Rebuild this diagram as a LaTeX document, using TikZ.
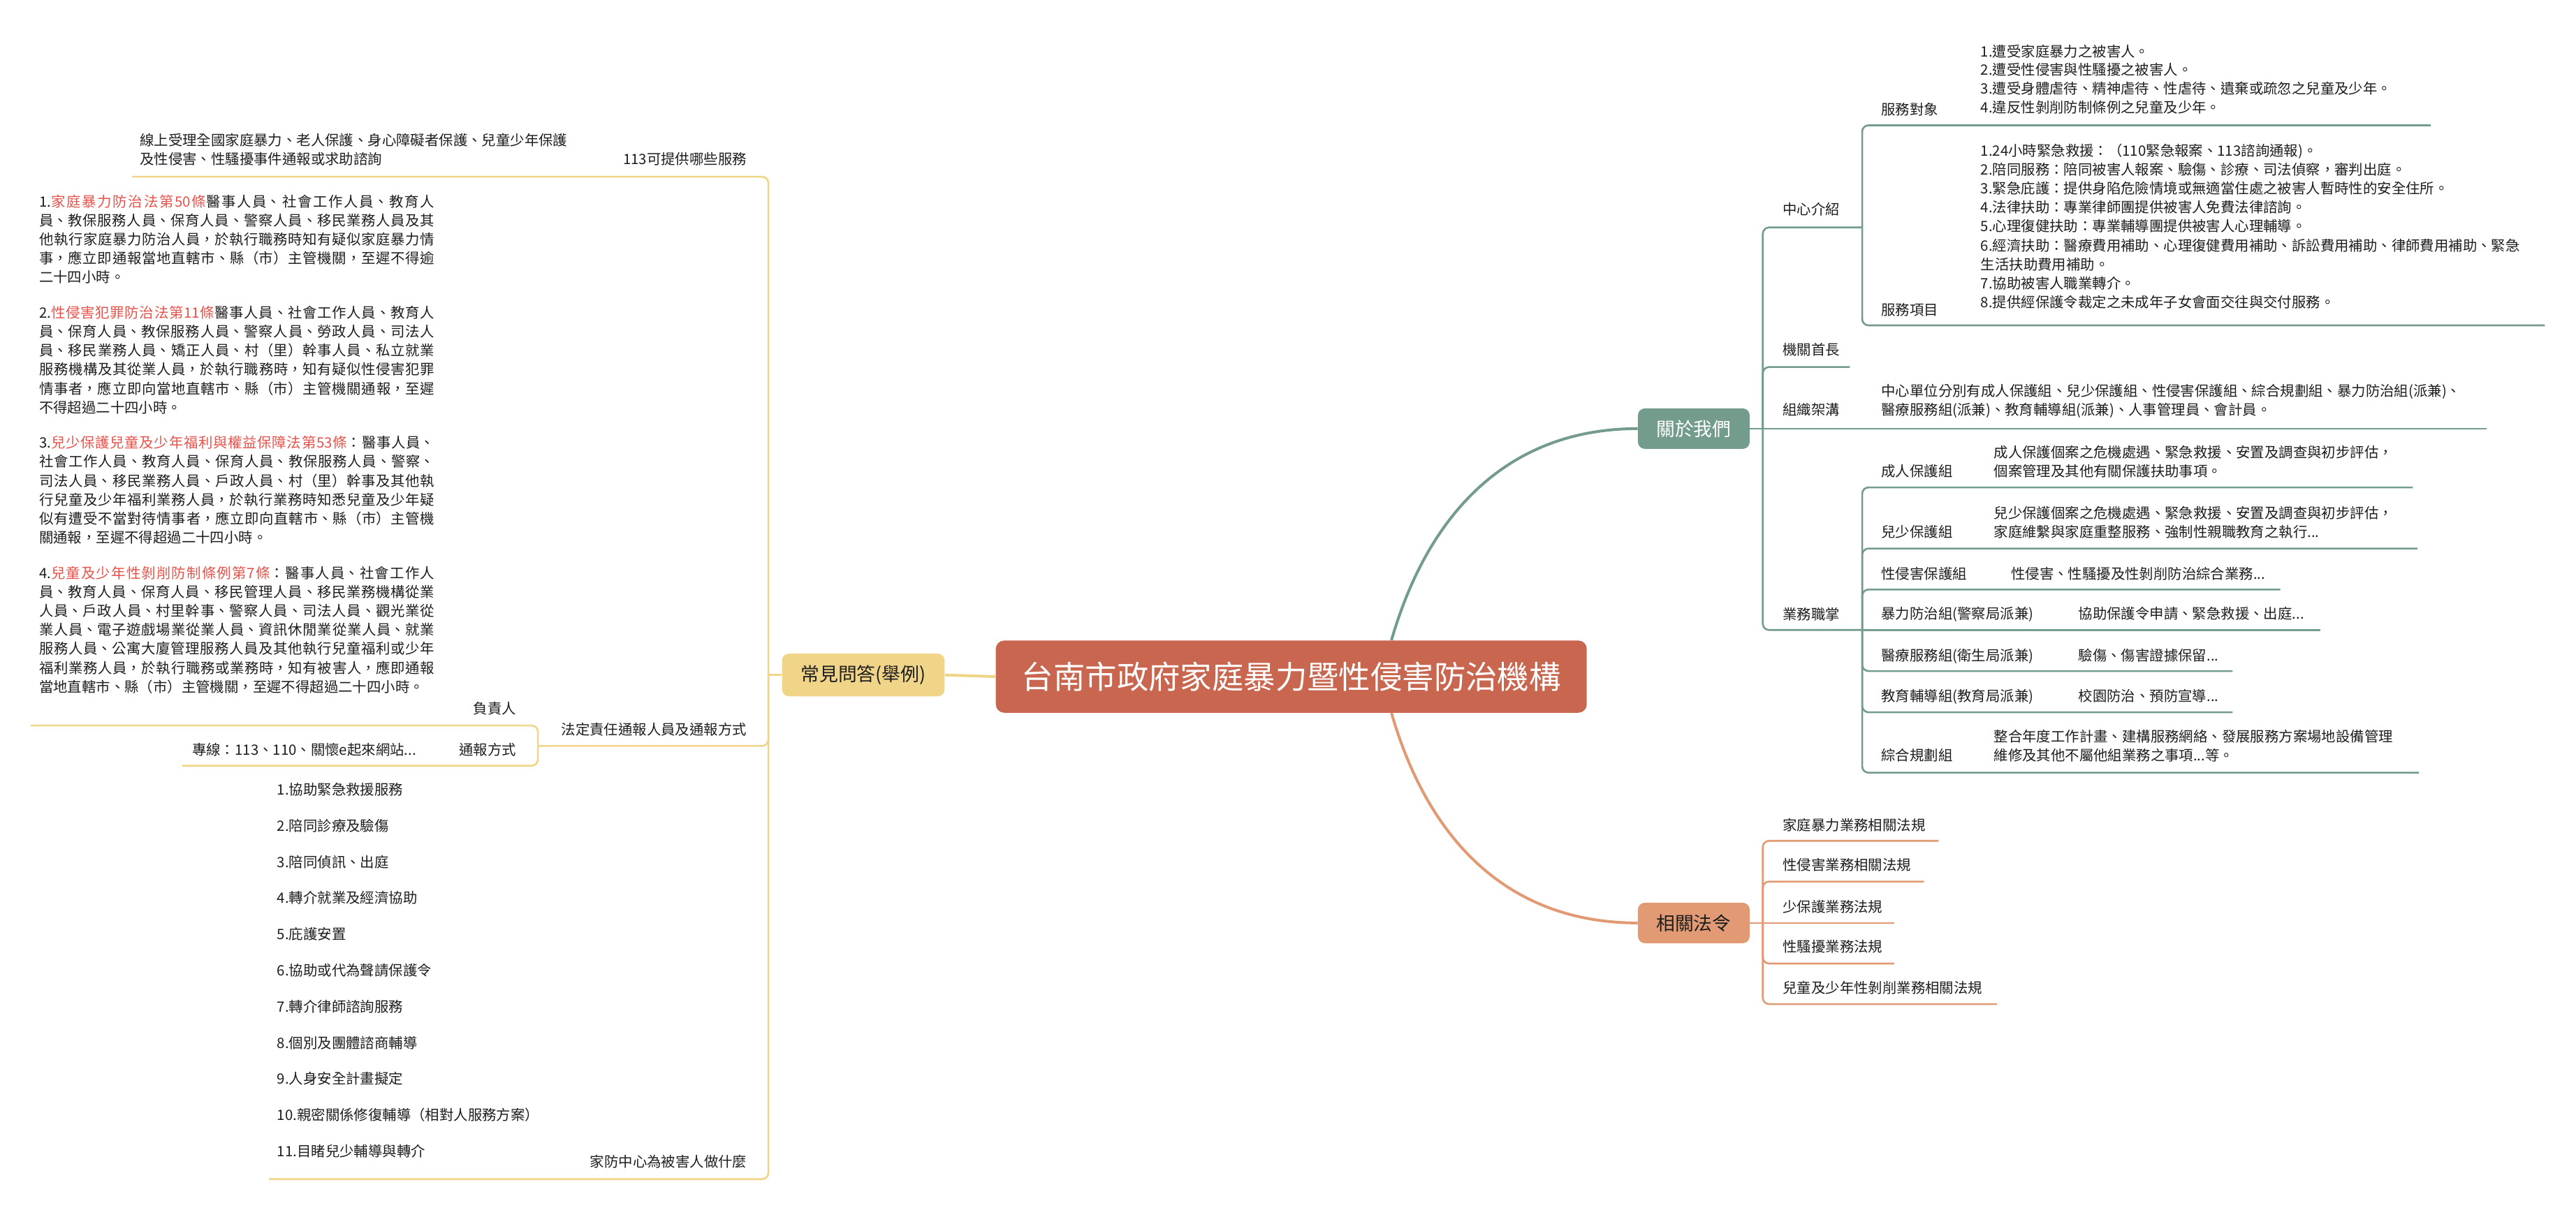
\documentclass[tikz,border=0pt]{standalone}
\usepackage{fontspec}
\setmainfont{Noto Sans CJK TC}
\usepackage{xcolor}
\usepackage{tikz}
\XeTeXlinebreaklocale "zh"
\XeTeXlinebreakskip=0pt plus 3pt

\definecolor{rootred}{HTML}{C8664F}
\definecolor{aboutgreen}{HTML}{739C8C}
\definecolor{laworange}{HTML}{E19A73}
\definecolor{faqyellow}{HTML}{F0D589}
\definecolor{lawred}{HTML}{E8524A}
\definecolor{ink}{HTML}{1E1E1E}

\newcommand{\lawname}[1]{\textcolor{lawred}{#1}}

\tikzset{
  rootbox/.style={rectangle, rounded corners=6pt, fill=rootred, text=white,
    font=\fontsize{22.7}{27}\selectfont, minimum width=423pt, minimum height=51.7pt, inner sep=0pt},
  topicbox/.style={rectangle, rounded corners=5pt, minimum width=80pt, minimum height=29pt,
    inner sep=0pt, font=\fontsize{13.4}{16}\selectfont},
  lbl/.style={inner sep=0pt, text=ink, font=\fontsize{10.2}{13.6}\selectfont},
  txt/.style={lbl, align=left},
  para/.style={lbl, text width=283pt, align=justify},
  listtxt/.style={inner sep=0pt, text=ink, align=left, font=\fontsize{10.2}{25.9}\selectfont},
  gline/.style={draw=aboutgreen, line width=1.3pt, rounded corners=4.5pt},
  oline/.style={draw=laworange, line width=1.3pt, rounded corners=4.5pt},
  yline/.style={draw=faqyellow, line width=1.3pt, rounded corners=4.5pt},
  mainline/.style={line width=2pt}
}

\begin{document}
\begin{tikzpicture}[x=1.176pt, y=-1.176pt]
\fill[white] (0,0) rectangle (1568,741);
\useasboundingbox (0,0) rectangle (1568,741);

% main topics
\node[rootbox] (root) at (786,412) {台南市政府家庭暴力暨性侵害防治機構};
\node[topicbox, fill=faqyellow, text=ink, minimum width=116.4pt, minimum height=30.6pt] (faq) at (525.5,411) {常見問答(舉例)};
\node[topicbox, fill=aboutgreen, text=white] (about) at (1031,261) {關於我們};
\node[topicbox, fill=laworange, text=ink] (rule) at (1031,562) {相關法令};

\draw[gline, mainline] ([xshift=71.7pt]root.north) .. controls (870,310) and (920,261) .. (about.west);
\draw[oline, mainline] ([xshift=71.7pt]root.south) .. controls (870,514) and (920,562) .. (rule.west);
\draw[yline, mainline] (faq.east) -- (root.west);

% about us
\coordinate (aboutj) at (1073,261);
\coordinate (zxjsj) at (1133.5,138.5);
\coordinate (ywzzj) at (1133.5,383.6);
\node[lbl, anchor=base west] (zxjs) at (1085,130.9) {中心介紹};
\node[lbl, anchor=base west] (jgsz) at (1085,216.3) {機關首長};
\node[lbl, anchor=base west] (zzjg) at (1085,252.7) {組織架溝};
\node[lbl, anchor=base west] (ywzz) at (1085,377.2) {業務職掌};

\node[lbl, anchor=base west] (fwdx) at (1145,69.9) {服務對象};
\node[txt, font=\fontsize{10.2}{13.35}\selectfont, anchor=base west] (fwdxt) at (1205.5,68.5) {1.遭受家庭暴力之被害人。\\2.遭受性侵害與性騷擾之被害人。\\3.遭受身體虐待、精神虐待、性虐待、遺棄或疏忽之兒童及少年。\\4.違反性剝削防制條例之兒童及少年。};
\node[lbl, anchor=base west] (fwxm) at (1145,191.8) {服務項目};
\node[txt, anchor=base west] (fwxmt) at (1205.5,187.4) {1.24小時緊急救援：（110緊急報案、113諮詢通報)。\\2.陪同服務：陪同被害人報案、驗傷、診療、司法偵察，審判出庭。\\3.緊急庇護：提供身陷危險情境或無適當住處之被害人暫時性的安全住所。\\4.法律扶助：專業律師團提供被害人免費法律諮詢。\\5.心理復健扶助：專業輔導團提供被害人心理輔導。\\6.經濟扶助：醫療費用補助、心理復健費用補助、訴訟費用補助、律師費用補助、緊急\\生活扶助費用補助。\\7.協助被害人職業轉介。\\8.提供經保護令裁定之未成年子女會面交往與交付服務。};
\node[txt, anchor=base west] (zzjgt) at (1145,252.8) {中心單位分別有成人保護組、兒少保護組、性侵害保護組、綜合規劃組、暴力防治組(派兼)、\\醫療服務組(派兼)、教育輔導組(派兼)、人事管理員、會計員。};

\node[lbl, anchor=base west] (crbh) at (1145,290.3) {成人保護組};
\node[txt, anchor=base west] (crbht) at (1213.5,290.3) {成人保護個案之危機處遇、緊急救援、安置及調查與初步評估，\\個案管理及其他有關保護扶助事項。};
\node[lbl, anchor=base west] (esbh) at (1145,327.3) {兒少保護組};
\node[txt, anchor=base west] (esbht) at (1213.5,327.3) {兒少保護個案之危機處遇、緊急救援、安置及調查與初步評估，\\家庭維繫與家庭重整服務、強制性親職教育之執行...};
\node[lbl, anchor=base west] (xqbh) at (1145,352.7) {性侵害保護組};
\node[lbl, anchor=base west] (xqbht) at (1224,352.7) {性侵害、性騷擾及性剝削防治綜合業務...};
\node[lbl, anchor=base west] (blfz) at (1145,377) {暴力防治組(警察局派兼)};
\node[lbl, anchor=base west] (blfzt) at (1265,377) {協助保護令申請、緊急救援、出庭...};
\node[lbl, anchor=base west] (ylfw) at (1145,402.3) {醫療服務組(衛生局派兼)};
\node[lbl, anchor=base west] (ylfwt) at (1265,402.3) {驗傷、傷害證據保留...};
\node[lbl, anchor=base west] (jyfd) at (1145,427.1) {教育輔導組(教育局派兼)};
\node[lbl, anchor=base west] (jyfdt) at (1265,427.1) {校園防治、預防宣導...};
\node[lbl, anchor=base west] (zhgh) at (1145,463.2) {綜合規劃組};
\node[txt, anchor=base west] (zhght) at (1213.5,463.3) {整合年度工作計畫、建構服務網絡、發展服務方案場地設備管理\\維修及其他不屬他組業務之事項...等。};

\draw[gline] (about.east) -- (aboutj);
\draw[gline] (aboutj) |- (zxjsj);
\draw[gline] (aboutj) |- (1126,223.5);
\draw[gline] (aboutj) -- (1513.7,261);
\draw[gline] (aboutj) |- (ywzzj);
\draw[gline] (zxjsj) |- (1479.6,76.3);
\draw[gline] (zxjsj) |- (1549,198.1);
\draw[gline] (ywzzj) |- (1468.6,296.8);
\draw[gline] (ywzzj) |- (1471.5,334);
\draw[gline] (ywzzj) |- (1388,359);
\draw[gline] (ywzzj) -- (1412.5,383.6);
\draw[gline] (ywzzj) |- (1359,408.6);
\draw[gline] (ywzzj) |- (1359,433.7);
\draw[gline] (ywzzj) |- (1472.4,470.5);

% related laws
\coordinate (rulej) at (1073,562);
\node[lbl, anchor=base west] (jtbl) at (1085,505.7) {家庭暴力業務相關法規};
\node[lbl, anchor=base west] (xqhg) at (1085,530.1) {性侵害業務相關法規};
\node[lbl, anchor=base west] (sbh) at (1085,555.3) {少保護業務法規};
\node[lbl, anchor=base west] (xsr) at (1085,579.8) {性騷擾業務法規};
\node[lbl, anchor=base west] (etxb) at (1085,604.9) {兒童及少年性剝削業務相關法規};
\draw[oline] (rule.east) -- (rulej) -- (1153,562);
\draw[oline] (rulej) |- (1180,512);
\draw[oline] (rulej) |- (1171,536.8);
\draw[oline] (rulej) |- (1153,586.7);
\draw[oline] (rulej) |- (1215.6,611.4);

% faq
\coordinate (faqj) at (467.7,411);
\coordinate (fdzrj) at (327.4,454.2);
\node[lbl, anchor=base east] (q113) at (454.6,100.3) {113可提供哪些服務};
\node[txt, anchor=base west] (q113t) at (85,100.3) {線上受理全國家庭暴力、老人保護、身心障礙者保護、兒童少年保護\\及性侵害、性騷擾事件通報或求助諮詢};
\node[lbl, anchor=base east] (fdzr) at (454.6,447.6) {法定責任通報人員及通報方式};
\node[lbl, anchor=base east] (fzr) at (314.3,434.9) {負責人};
\node[para, anchor=base west] (duty) at (23.7,125.9) {%
1.\lawname{家庭暴力防治法第50條}醫事人員、社會工作人員、教育人\linebreak
員、教保服務人員、保育人員、警察人員、移民業務人員及其\linebreak
他執行家庭暴力防治人員，於執行職務時知有疑似家庭暴力情\linebreak
事，應立即通報當地直轄市、縣（市）主管機關，至遲不得逾\linebreak
二十四小時。\par\vspace{11.6pt}%
2.\lawname{性侵害犯罪防治法第11條}醫事人員、社會工作人員、教育人\linebreak
員、保育人員、教保服務人員、警察人員、勞政人員、司法人\linebreak
員、移民業務人員、矯正人員、村（里）幹事人員、私立就業\linebreak
服務機構及其從業人員，於執行職務時，知有疑似性侵害犯罪\linebreak
情事者，應立即向當地直轄市、縣（市）主管機關通報，至遲\linebreak
不得超過二十四小時。\par\vspace{11.6pt}%
3.\lawname{兒少保護兒童及少年福利與權益保障法第53條}：醫事人員、\linebreak
社會工作人員、教育人員、保育人員、教保服務人員、警察、\linebreak
司法人員、移民業務人員、戶政人員、村（里）幹事及其他執\linebreak
行兒童及少年福利業務人員，於執行業務時知悉兒童及少年疑\linebreak
似有遭受不當對待情事者，應立即向直轄市、縣（市）主管機\linebreak
關通報，至遲不得超過二十四小時。\par\vspace{11.6pt}%
4.\lawname{兒童及少年性剝削防制條例第7條}：醫事人員、社會工作人\linebreak
員、教育人員、保育人員、移民管理人員、移民業務機構從業\linebreak
人員、戶政人員、村里幹事、警察人員、司法人員、觀光業從\linebreak
業人員、電子遊戲場業從業人員、資訊休閒業從業人員、就業\linebreak
服務人員、公寓大廈管理服務人員及其他執行兒童福利或少年\linebreak
福利業務人員，於執行職務或業務時，知有被害人，應即通報\linebreak
當地直轄市、縣（市）主管機關，至遲不得超過二十四小時。};
\node[lbl, anchor=base east] (tbfs) at (314.3,459.9) {通報方式};
\node[lbl, anchor=base east] (zxian) at (253.5,459.9) {專線：113、110、關懷e起來網站...};
\node[lbl, anchor=base east] (jfzx) at (454.8,710.8) {家防中心為被害人做什麼};
\node[listtxt, anchor=base west] (jfxm) at (168.6,704.3) {1.協助緊急救援服務\\2.陪同診療及驗傷\\3.陪同偵訊、出庭\\4.轉介就業及經濟協助\\5.庇護安置\\6.協助或代為聲請保護令\\7.轉介律師諮詢服務\\8.個別及團體諮商輔導\\9.人身安全計畫擬定\\10.親密關係修復輔導（相對人服務方案）\\11.目睹兒少輔導與轉介};

\draw[yline] (faq.west) -- (faqj);
\draw[yline] (faqj) |- (80.5,107.6);
\draw[yline] (faqj) |- (fdzrj);
\draw[yline] (faqj) |- (163.7,718);
\draw[yline] (fdzrj) |- (18.8,441.8);
\draw[yline] (fdzrj) |- (110.8,466.3);
\end{tikzpicture}
\end{document}
